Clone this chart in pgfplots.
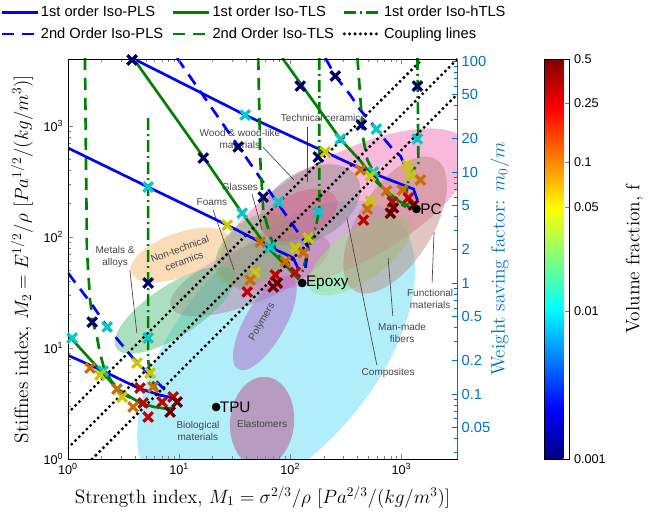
\documentclass[border=0pt]{standalone}
\usepackage{fontspec}
\setsansfont{Liberation Sans}
\usepackage{pgfplots}
\pgfplotsset{compat=1.18}
\definecolor{wsblue}{RGB}{0,114,189}
\definecolor{mlgreen}{RGB}{0,128,0}
\definecolor{annot}{RGB}{70,70,70}

\pgfplotstableread{
x y logf
3.77 3936 -3
123 2290 -3
254 2820 -3
1393 2290 -3
436 1021 -3
179 526 -3
34 647 -3
16.5 515 -3
57.1 229 -3
5.26 38.5 -3
1.65 17.1 -3
39.3 1256 -2
5.26 282 -2
282 764 -2
595 940 -2
1393 764 -2
559 385 -2
78 207 -2
36.9 164 -2
66.1 81 -2
179 168 -2
5.26 12.3 -2
1.09 12.3 -2
2.25 15.5 -2
2.07 6.2 -2
207 583 -1.301
27.1 128 -1.301
1132 445 -1.301
1205 362 -1.301
526 355 -1.301
526 211 -1.301
145 98 -1.301
111 80 -1.301
48.4 48 -1.301
4.18 7.3 -1.301
5.48 5.95 -1.301
1.94 5.71 -1.301
3.07 3.62 -1.301
427 402 -1
733 260 -1
1021 265 -1
1483 326 -1
494 179 -1
53.7 90 -1
90.2 60 -1
43.6 41 -1
131 72 -1
1.58 6.6 -1
2.76 4.27 -1
3.85 2.94 -1
5.83 4.45 -1
830 207 -0.602
1156 225 -0.602
455 142 -0.602
41 32 -0.602
73.3 45.5 -0.602
111 48 -0.602
4.45 4.36 -0.602
4.74 3.2 -0.602
5.26 2.39 -0.602
7.03 3.26 -0.602
8.83 3.62 -0.602
796 164 -0.301
1283 194 -0.301
847 183 -0.301
76.4 38.5 -0.301
70.3 35.5 -0.301
8.3 2.65 -0.301
9.59 3.26 -0.301
}\markers

\begin{document}
\begin{tikzpicture}[x=1pt,y=1pt]
\useasboundingbox (0,0) rectangle (490.5,385.5);
\begin{axis}[
  at={(51pt,41.25pt)}, anchor=south west,
  scale only axis, width=291.75pt, height=300pt,
  xmode=log, ymode=log,
  xmin=1, xmax=3162, ymin=1, ymax=4015,
  ytick pos=left,
  xtick={1,10,100,1000},
  xticklabels={10\textsuperscript{0},10\textsuperscript{1},10\textsuperscript{2},10\textsuperscript{3}},
  ytick={1,10,100,1000},
  yticklabels={10\textsuperscript{0},10\textsuperscript{1},10\textsuperscript{2},10\textsuperscript{3}},
  tick label style={font=\fontsize{9.5}{11}\sffamily},
  tick align=inside,
  major tick length=3.5pt, minor tick length=2pt,
  axis on top,
  label style={font=\fontsize{14.5}{16}\selectfont},
  xlabel={Strength index, $M_1=\sigma^{2/3}/\rho\ [Pa^{2/3}/(kg/m^3)]$},
  ylabel={Stiffnes index, $M_2=E^{1/2}/\rho\ [Pa^{1/2}/(kg/m^3)]$},
  xlabel style={at={(axis description cs:0.5,-0.095)}, anchor=center},
  ylabel style={at={(axis description cs:-0.118,0.5)}, anchor=center},
  colormap/jet,
  point meta min=-3, point meta max=-0.30103,
  colorbar,
  colorbar style={
    at={(parent axis.north east)}, anchor=north west, xshift=57pt,
    scale only axis, width=18.75pt, height=300pt,
    xmode=normal, ymode=normal,
    xtick=\empty, xlabel={},
    ytick={-3,-2,-1.30103,-1,-0.60206,-0.30103},
    yticklabels={0.001,0.01,0.05,0.1,0.25,0.5},
    minor ytick={},
    ytick pos=right,
    tick align=inside, major tick length=3pt,
    yticklabel style={font=\fontsize{9.5}{11}\sffamily},
    ylabel={Volume fraction, f},
    ylabel style={font=\fontsize{14.5}{16}\selectfont, at={(axis description cs:3.6,0.5)}, anchor=center},
  },
  legend columns=3,
  legend cell align=left,
  legend style={
    at={(axis description cs:-0.1748,1.1375)}, anchor=north west,
    draw=none, fill=none, inner sep=0pt,
    font=\fontsize{11}{13}\sffamily,
    nodes={inner sep=1.5pt},
    row sep=3.5pt,
    /tikz/every even column/.append style={column sep=5pt},
  },
  legend image code/.code={\draw[#1] (0pt,0pt) -- (27pt,0pt);},
]

% background material families
\fill[fill={rgb,1:red,0.40;green,0.86;blue,0.96}, opacity=0.5] (rel axis cs:0.535,0.265) ellipse [x radius=136pt, y radius=74pt, rotate=50];
\fill[fill={rgb,1:red,0.95;green,0.45;blue,0.72}, opacity=0.5] (rel axis cs:0.712,0.6225) ellipse [x radius=105pt, y radius=41pt, rotate=28];
\fill[fill={rgb,1:red,0.72;green,0.45;blue,0.60}, opacity=0.45] (rel axis cs:0.468,0.46) ellipse [x radius=64pt, y radius=21pt, rotate=22];
\fill[fill={rgb,1:red,0.60;green,0.90;blue,0.50}, opacity=0.5] (rel axis cs:0.751,0.51) ellipse [x radius=45pt, y radius=19pt, rotate=35];
\fill[fill={rgb,1:red,0.72;green,0.50;blue,0.45}, opacity=0.45] (rel axis cs:0.841,0.585) ellipse [x radius=58pt, y radius=28pt, rotate=58];
\fill[fill={rgb,1:red,0.35;green,0.75;blue,0.50}, opacity=0.5] (rel axis cs:0.275,0.3725) ellipse [x radius=52.5pt, y radius=19pt, rotate=33];
\fill[fill={rgb,1:red,0.97;green,0.75;blue,0.50}, opacity=0.55] (rel axis cs:0.288,0.51) ellipse [x radius=39pt, y radius=16.5pt, rotate=20];
\fill[fill={rgb,1:red,0.55;green,0.55;blue,0.55}, opacity=0.5] (rel axis cs:0.622,0.635) ellipse [x radius=41pt, y radius=26pt, rotate=30];
\fill[fill={rgb,1:red,0.50;green,0.70;blue,0.45}, opacity=0.5] (rel axis cs:0.481,0.5225) ellipse [x radius=34pt, y radius=22.5pt, rotate=40];
\fill[fill={rgb,1:red,0.85;green,0.35;blue,0.50}, opacity=0.45] (rel axis cs:0.596,0.61) ellipse [x radius=30pt, y radius=16.5pt, rotate=25];
\fill[fill={rgb,1:red,0.70;green,0.45;blue,0.80}, opacity=0.55] (rel axis cs:0.506,0.34) ellipse [x radius=40pt, y radius=15pt, rotate=60];
\fill[fill={rgb,1:red,0.72;green,0.40;blue,0.60}, opacity=0.6] (rel axis cs:0.499,0.0925) ellipse [x radius=34pt, y radius=24pt, rotate=85];

% family labels and leaders
\begin{scope}[annot, line width=0.5pt]
\draw (rel axis cs:0.614,0.83) -- (rel axis cs:0.614,0.6925);
\draw (rel axis cs:0.501,0.78) -- (rel axis cs:0.581,0.6975);
\draw (rel axis cs:0.473,0.6625) -- (rel axis cs:0.499,0.5725);
\draw (rel axis cs:0.373,0.6225) -- (rel axis cs:0.427,0.4725);
\draw (rel axis cs:0.159,0.4725) -- (rel axis cs:0.177,0.315);
\draw (rel axis cs:0.794,0.235) -- (rel axis cs:0.717,0.6025);
\draw (rel axis cs:0.835,0.3575) -- (rel axis cs:0.823,0.5025);
\draw (rel axis cs:0.936,0.44) -- (rel axis cs:0.941,0.5675);
\end{scope}
\begin{scope}[every node/.style={font=\fontsize{7.5}{8.5}\sffamily, text=annot, align=center, inner sep=0pt}]
\node at (rel axis cs:0.656,0.8525) {Technical ceramics};
\node at (rel axis cs:0.442,0.80) {Wood \& wood-like\\[1pt]materials};
\node at (rel axis cs:0.442,0.68) {Glasses};
\node at (rel axis cs:0.370,0.6425) {Foams};
\node[rotate=20] at (rel axis cs:0.293,0.51) {Non-technical\\[1pt]ceramics};
\node at (rel axis cs:0.121,0.505) {Metals \&\\[1pt]alloys};
\node[rotate=60] at (rel axis cs:0.499,0.3425) {Polymers};
\node at (rel axis cs:0.334,0.07) {Biological\\[1pt]materials};
\node at (rel axis cs:0.499,0.0875) {Elastomers};
\node at (rel axis cs:0.823,0.215) {Composites};
\node at (rel axis cs:0.859,0.315) {Man-made\\[1pt]fibers};
\node at (rel axis cs:0.931,0.40) {Functional\\[1pt]materials};
\end{scope}

% legend-bearing curves
\addplot[blue, line width=2pt] coordinates {(3.77,4100) (39.3,1256) (207,583) (402,427) (979,300) (1283,271) (1393,215)};
\addplot[mlgreen, line width=2pt] coordinates {(3.85,4100) (16.5,526) (36.9,164) (62.1,81) (90.2,56) (119,41.5)};
\addplot[mlgreen, line width=2pt, dash pattern=on 9pt off 3pt on 1.5pt off 3pt] coordinates {(5.26,1180) (5.26,7.8) (5.48,5.71) (6.07,4.45) (7.03,3.55)};
\addplot[blue, line width=2pt, dash pattern=on 9pt off 6pt] coordinates {(207,4100) (254,2820) (347,1901) (427,1393) (608,920) (689,780) (847,608) (979,537) (1100,420)};
\addplot[mlgreen, line width=2pt, dash pattern=on 9pt off 6pt] coordinates {(1.42,4100) (1.48,76) (1.58,27) (1.68,16.8) (1.82,12.6) (1.94,9.0) (2.11,6.6) (2.49,4.94) (3.26,3.77) (4.94,3.06)};
\addplot[black, line width=2.5pt, line cap=round, dash pattern=on 0pt off 4pt] coordinates {(1,2.6) (1544,4015)};

% remaining curves
\addplot[forget plot, blue, line width=2pt] coordinates {(1,634) (5.26,282) (27.1,128) (66.1,81) (106,65) (120,50)};
\addplot[forget plot, blue, line width=2pt] coordinates {(1,8.6) (2.07,6.2) (4.27,4.36) (6.74,3.77) (8.83,3.55)};
\addplot[forget plot, mlgreen, line width=2pt] coordinates {(84.7,4100) (282,764) (436,474) (608,306) (920,215) (1205,183)};
\addplot[forget plot, mlgreen, line width=2pt] coordinates {(1,13.1) (1.94,6.34) (2.76,4.3) (4.45,3.2) (5.9,2.95) (7.5,2.85) (9.2,2.9)};
\addplot[forget plot, mlgreen, line width=2pt, dash pattern=on 9pt off 3pt on 1.5pt off 3pt] coordinates {(182,4100) (182,175) (171,128) (145,76) (128,48)};
\addplot[forget plot, mlgreen, line width=2pt, dash pattern=on 9pt off 3pt on 1.5pt off 3pt] coordinates {(1393,4100) (1422,464) (1283,402) (1156,326) (1100,239) (1156,194)};
\addplot[forget plot, blue, line width=2pt, dash pattern=on 9pt off 6pt] coordinates {(9.59,4100) (145,81) (137,52.7)};
\addplot[forget plot, blue, line width=2pt, dash pattern=on 9pt off 6pt] coordinates {(1,47.4) (1.65,24.5) (2.25,15.5) (3.77,8.3) (5.48,5.71) (7.48,4.18) (9.2,3.55)};
\addplot[forget plot, mlgreen, line width=2pt, dash pattern=on 9pt off 6pt] coordinates {(51.5,4100) (53.7,494) (57.1,175) (66.1,100) (78,69) (100,50.5) (123,41)};
\addplot[forget plot, mlgreen, line width=2pt, dash pattern=on 9pt off 6pt] coordinates {(402,4100) (455,748) (494,494) (548,402) (621,313) (796,225) (1100,186)};
\addplot[forget plot, black, line width=2.5pt, line cap=round, dash pattern=on 0pt off 4pt] coordinates {(1,1.256) (3162,3972)};
\addplot[forget plot, black, line width=2.5pt, line cap=round, dash pattern=on 0pt off 4pt] coordinates {(1.647,1) (3162,1919)};

% volume fraction markers
\addplot[forget plot, scatter, only marks, mark=x, mark size=5pt, mark options={line width=2.4pt}, point meta=explicit] table[x=x, y=y, meta=logf] {\markers};

% matrix materials
\addplot[forget plot, only marks, mark=*, mark size=3pt, black] coordinates {(21.5,2.94) (128,38.5) (1365,179)};
\node[anchor=west, inner sep=1pt, font=\fontsize{11.5}{13}\sffamily] at (axis cs:22.5,2.94) {TPU};
\node[anchor=west, inner sep=1pt, font=\fontsize{11.5}{13}\sffamily] at (axis cs:134,38.5) {Epoxy};
\node[anchor=west, inner sep=1pt, font=\fontsize{11.5}{13}\sffamily] at (axis cs:1430,179) {PC};

\legend{1st order Iso-PLS, 1st order Iso-TLS, 1st order Iso-hTLS, 2nd Order Iso-PLS, 2nd Order Iso-TLS, Coupling lines}
\end{axis}

\begin{axis}[
  at={(51pt,41.25pt)}, anchor=south west,
  scale only axis, width=291.75pt, height=300pt,
  xmode=log, xmin=1, xmax=3162,
  ymode=log, ymin=0.02597, ymax=104.3,
  axis x line=none, axis y line*=right,
  tick align=inside,
  major tick length=3.5pt, minor tick length=2pt,
  ytick={0.05,0.1,0.2,0.5,1,2,5,10,20,50,100},
  yticklabels={0.05,0.1,0.2,0.5,1,2,5,10,20,50,100},
  minor ytick={0.03,0.04,0.06,0.07,0.08,0.09,0.3,0.4,0.6,0.7,0.8,0.9,3,4,6,7,8,9,30,40,60,70,80,90},
  y axis line style={wsblue},
  every y tick/.style={wsblue},
  every minor y tick/.style={wsblue},
  yticklabel style={wsblue, font=\fontsize{11}{13}\sffamily},
  ylabel={Weight saving factor: $m_0/m$},
  ylabel style={wsblue, font=\fontsize{14.5}{16}\selectfont, at={(axis description cs:1.11,0.5)}, anchor=center},
]
\addplot[draw=none] coordinates {(1,1)};
\end{axis}
\end{tikzpicture}
\end{document}
